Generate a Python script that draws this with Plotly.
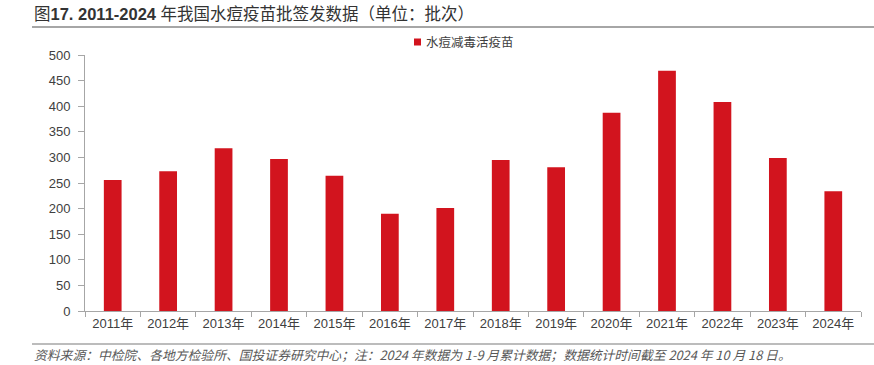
import plotly.graph_objects as go

years = ["2011年", "2012年", "2013年", "2014年", "2015年", "2016年", "2017年",
         "2018年", "2019年", "2020年", "2021年", "2022年", "2023年", "2024年"]
values = [256, 273, 318, 297, 264, 190, 201, 295, 281, 387, 469, 408, 299, 234]
series_name = "水痘减毒活疫苗"
y_ticks = [0, 50, 100, 150, 200, 250, 300, 350, 400, 450, 500]

FONT = "Liberation Sans, Arial, Noto Sans CJK SC, sans-serif"
RED = "#D2141E"
RULE = "#A6A6A6"
W, H = 874, 365
PL, PR, PT, PB = 85, 861, 55, 311  # plot area in page pixels


def fx(x):
    return x / W


def fy(y):
    return (H - y) / H


fig = go.Figure()
fig.add_trace(go.Bar(
    x=years, y=values, name=series_name,
    marker=dict(color=RED, line=dict(width=0)),
    width=0.32, showlegend=False,
))

# page-level decoration rules drawn on a hidden full-page overlay axis pair
for y_rule, w_rule in [(27, 2), (344, 1.5)]:
    fig.add_trace(go.Scatter(
        x=[32, W], y=[y_rule, y_rule], mode="lines",
        line=dict(color=RULE, width=w_rule),
        xaxis="x2", yaxis="y2", hoverinfo="skip", showlegend=False,
        cliponaxis=False,
    ))

fig.update_layout(
    width=W, height=H,
    margin=dict(l=0, r=0, t=0, b=0, autoexpand=False),
    paper_bgcolor="white", plot_bgcolor="rgba(0,0,0,0)",
    font=dict(family=FONT, size=13, color="#404040"),
    showlegend=False,
    xaxis=dict(
        domain=[fx(PL), fx(PR)],
        showline=True, linecolor=RULE, linewidth=1,
        ticks="outside", ticklen=5, tickcolor=RULE,
        tickson="boundaries", showgrid=False,
        tickfont=dict(size=13, color="#404040"),
    ),
    yaxis=dict(
        domain=[fy(PB), fy(PT)],
        range=[0, 500], tickvals=y_ticks,
        showline=True, linecolor=RULE, linewidth=1,
        ticks="outside", ticklen=6, tickcolor=RULE,
        ticklabelstandoff=5,
        showgrid=False, zeroline=False,
        tickfont=dict(size=13, color="#404040"),
    ),
    xaxis2=dict(domain=[0, 1], range=[0, W], anchor="y2", visible=False,
                fixedrange=True),
    yaxis2=dict(domain=[0, 1], range=[H, 0], anchor="x2", visible=False,
                fixedrange=True),
)

# legend (square marker + label)
fig.add_shape(type="rect", xref="paper", yref="paper",
              x0=fx(414), x1=fx(421), y0=fy(45.5), y1=fy(38.5),
              fillcolor=RED, line=dict(width=0))
fig.add_annotation(
    text=series_name, xref="paper", yref="paper",
    x=fx(424), y=fy(42), xanchor="left", yanchor="middle", showarrow=False,
    font=dict(size=12.5, color="#404040", family="Noto Sans CJK SC"),
)

fig.add_annotation(
    text="图<b>17. 2011-2024</b> 年我国水痘疫苗批签发数据（单位：批次）",
    xref="paper", yref="paper", x=fx(32), y=fy(14), xanchor="left", yanchor="middle",
    showarrow=False,
    font=dict(size=16.5, color="#333333", family=FONT),
)
fig.add_annotation(
    text="<i>资料来源：中检院、各地方检验所、国投证券研究中心；注：2024 年数据为 1-9 月累计数据；数据统计时间截至 2024 年 10 月 18 日。</i>",
    xref="paper", yref="paper", x=fx(32), y=fy(354), xanchor="left", yanchor="middle",
    showarrow=False,
    font=dict(size=12.8, color="#595959", family="Noto Sans CJK SC"),
)

fig.write_html("out.html", config={"displayModeBar": False},
               post_script="document.body.style.margin='0';")
